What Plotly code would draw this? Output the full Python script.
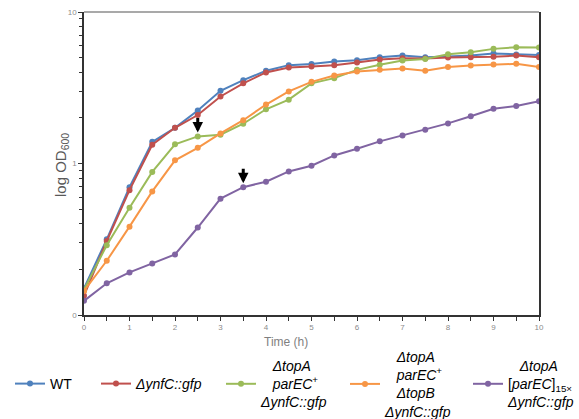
import math
import plotly.graph_objects as go

# ---------------- data ----------------
time_h = [0, 0.5, 1, 1.5, 2, 2.5, 3, 3.5, 4, 4.5, 5, 5.5, 6, 6.5, 7, 7.5, 8, 8.5, 9, 9.5, 10]

wt = [0.15, 0.316, 0.698, 1.39, 1.72, 2.24, 3.02, 3.55, 4.09, 4.46, 4.53, 4.71, 4.81, 5.03,
      5.16, 5.03, 5.08, 5.16, 5.32, 5.24, 5.21]
ynfc = [0.134, 0.308, 0.667, 1.33, 1.72, 2.09, 2.77, 3.38, 3.99, 4.30, 4.37, 4.46, 4.64, 4.86,
        4.96, 4.93, 5.00, 5.03, 5.06, 5.16, 5.03]
topa_parec = [0.147, 0.289, 0.511, 0.88, 1.34, 1.51, 1.55, 1.83, 2.28, 2.64, 3.38, 3.66, 4.15,
              4.48, 4.78, 4.89, 5.27, 5.43, 5.71, 5.86, 5.82]
topa_parec_topb = [0.144, 0.228, 0.383, 0.654, 1.05, 1.27, 1.58, 1.93, 2.45, 2.99, 3.46, 3.81,
                   4.05, 4.15, 4.24, 4.09, 4.33, 4.43, 4.50, 4.55, 4.33]
topa_parec15 = [0.124, 0.162, 0.191, 0.219, 0.251, 0.378, 0.586, 0.698, 0.758, 0.886, 0.966,
                1.13, 1.25, 1.40, 1.53, 1.67, 1.84, 2.05, 2.30, 2.40, 2.58]

NB = "\u00a0"
series_names = [
    "WT",
    "<i>ΔynfC::gfp</i>",
    NB * 3 + "<i>ΔtopA</i><br>" + NB * 3 + "<i>parEC</i><sup>+</sup><br><i>ΔynfC::gfp</i>",
    NB * 3 + "<i>ΔtopA</i><br>" + NB * 3 + "<i>parEC</i><sup>+</sup><br>" + NB * 3
    + "<i>ΔtopB</i><br><i>ΔynfC::gfp</i>",
    NB * 3 + "<i>ΔtopA</i><br>[<i>parEC</i>]<sub>15×</sub><br><i>ΔynfC::gfp</i>",
]
series_values = [wt, ynfc, topa_parec, topa_parec_topb, topa_parec15]
series_colors = ["#4F81BD", "#C0504D", "#9BBB59", "#F79646", "#8064A2"]

# arrows: (series index, time)
arrow_marks = [(2, 2.5), (4, 3.5)]

y_tickvals = [0.1, 1, 10]
y_ticktext = ["0", "1", "10"]
x_tickvals = [0, 1, 2, 3, 4, 5, 6, 7, 8, 9, 10]

# ---------------- layout constants ----------------
W, H = 579, 419
ML, MR, MT, MB = 84, 40, 12, 104
PW, PH = W - ML - MR, H - MT - MB


def px_x(p):
    return (p - ML) / PW


def px_y(p):
    return (H - MB - p) / PH


legend_left_px = [10, 96, 221, 345, 468]
legend_mid_px = 384

# ---------------- figure ----------------
fig = go.Figure()
legend_ids = ["legend", "legend2", "legend3", "legend4", "legend5"]
for name, vals, col, lid in zip(series_names, series_values, series_colors, legend_ids):
    fig.add_trace(go.Scatter(
        x=time_h, y=vals, name=name, mode="lines+markers",
        line=dict(color=col, width=2),
        marker=dict(color=col, size=6),
        legend=lid,
    ))

for si, t in arrow_marks:
    v = series_values[si][time_h.index(t)]
    fig.add_annotation(
        x=t, y=math.log10(v), xref="x", yref="y", text="",
        showarrow=True, ax=0, ay=-20, axref="pixel", ayref="pixel",
        arrowhead=2, arrowsize=0.7, arrowwidth=3, arrowcolor="black", standoff=4,
    )

minor_y = [m * d for d in (0.1, 1) for m in range(2, 10)]

fig.update_xaxes(
    range=[0, 10], tickvals=x_tickvals, ticks="outside", ticklen=4, tickcolor="#333",
    showline=True, linecolor="#333", linewidth=1.5, showgrid=False, zeroline=False,
    tickfont=dict(size=8, color="#8c8c8c", family="Liberation Sans"),
    minor=dict(dtick=0.5, tick0=0, ticks="outside", ticklen=4, tickcolor="#333"),
)
fig.update_yaxes(
    type="log", range=[-1, 1], tickvals=y_tickvals, ticktext=y_ticktext,
    ticks="outside", ticklen=4, tickcolor="#333",
    showline=True, linecolor="#333", linewidth=1.5, mirror=True, showgrid=False, zeroline=False,
    tickfont=dict(size=8, color="#8c8c8c", family="Liberation Sans"),
    minor=dict(tickmode="array", tickvals=minor_y, ticks="outside", ticklen=3, tickcolor="#333"),
)

# top border (gray)
fig.add_shape(type="line", xref="paper", yref="paper", x0=0, x1=1, y0=1, y1=1,
              line=dict(color="#8c8c8c", width=1.5))

# axis titles
fig.add_annotation(text="Time (h)", xref="paper", yref="paper", x=px_x(285.5), y=px_y(342),
                   showarrow=False, xanchor="center", yanchor="middle",
                   font=dict(size=12, color="#7f7f7f", family="Liberation Sans"))
fig.add_annotation(text="log OD<sub>600</sub>", xref="paper", yref="paper", x=px_x(61),
                   y=px_y(165), showarrow=False, textangle=-90, xanchor="center",
                   yanchor="middle",
                   font=dict(size=15, color="#595959", family="Liberation Sans"))

legend_common = dict(orientation="v", xanchor="left", yanchor="middle",
                     font=dict(size=14, color="black", family="Liberation Sans"),
                     itemwidth=30, valign="middle", bgcolor="rgba(0,0,0,0)", borderwidth=0)
legends = {}
for lid, lx in zip(legend_ids, legend_left_px):
    legends[lid] = dict(legend_common, x=px_x(lx), y=px_y(legend_mid_px))

fig.update_layout(
    width=W, height=H,
    margin=dict(l=ML, r=MR, t=MT, b=MB, autoexpand=False),
    paper_bgcolor="white", plot_bgcolor="white",
    font=dict(family="Liberation Sans", color="black"),
    showlegend=True,
    **legends,
)

fig.write_html(
    "out.html",
    config={"displayModeBar": False},
    post_script="document.body.style.margin='0';document.body.style.overflow='hidden';",
)
